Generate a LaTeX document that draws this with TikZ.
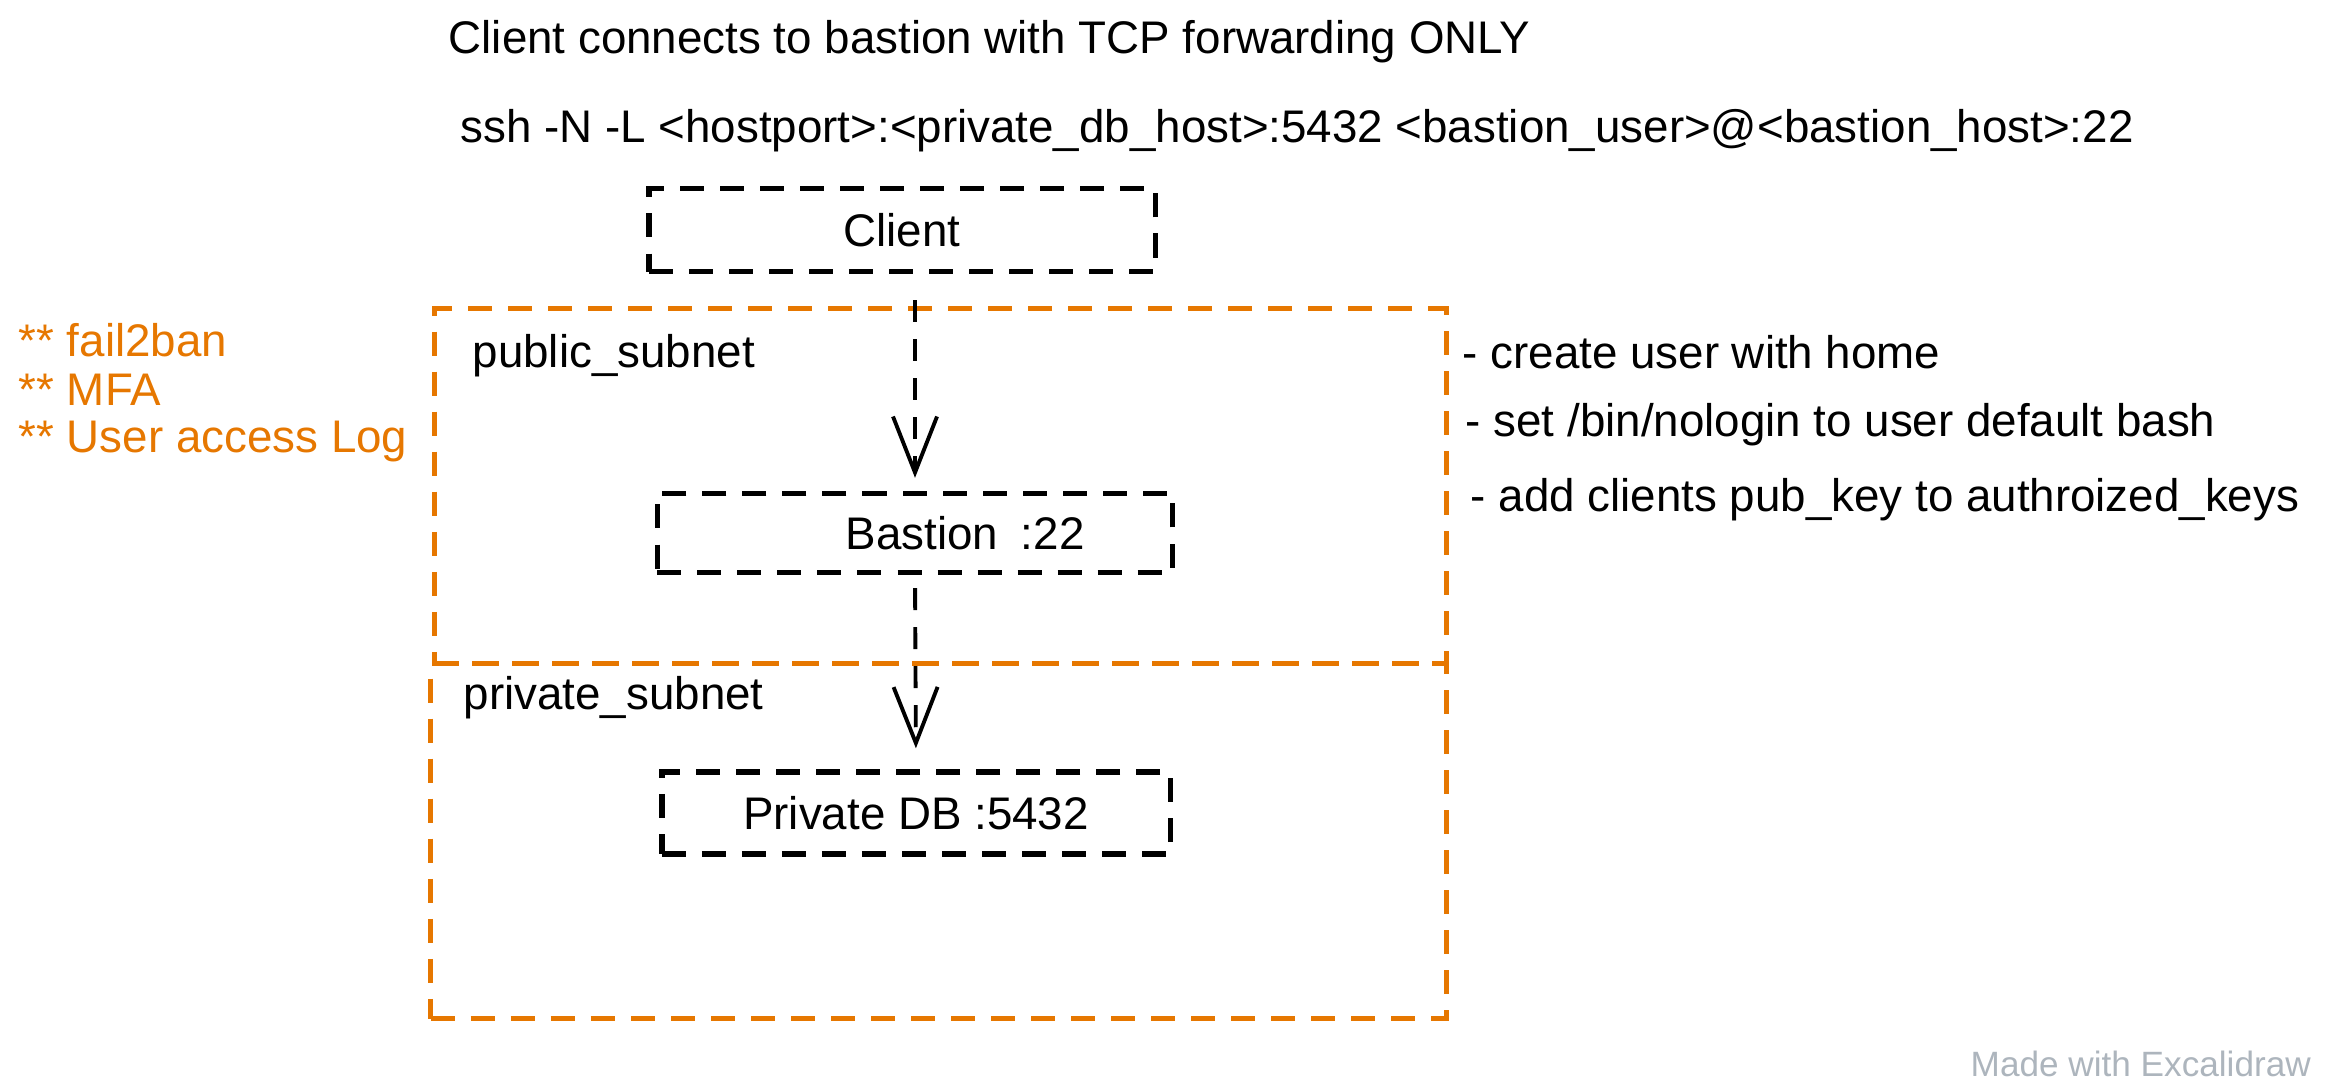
\documentclass[tikz,border=0pt]{standalone}
\usepackage{fontspec}
\setmainfont{Liberation Sans}
\usepackage{xcolor}
\usetikzlibrary{positioning,arrows.meta,calc}
\definecolor{netorange}{RGB}{230,119,0}
\definecolor{wmgray}{RGB}{173,181,189}

\begin{document}
\begin{tikzpicture}[x=0.01cm, y=-0.01cm,
  txt/.style={inner sep=0pt, anchor=west, font=\fontsize{13}{15}\selectfont},
  note/.style={txt, text=netorange},
  hostbox/.style={draw, line width=1.5pt, dash pattern=on 2.4mm off 1.6mm, inner sep=0pt, font=\fontsize{13}{15}\selectfont},
  subnet/.style={draw=netorange, line width=1.5pt, dash pattern=on 2.4mm off 1.6mm, inner sep=0pt, anchor=north west},
  flow/.style={line width=1.1pt, dash pattern=on 2.2mm off 1.7mm, -{Straight Barb[length=5.6mm, width=4.4mm]}},
  >={Stealth[length=2mm]}]
\useasboundingbox (0,0) rectangle (2328,1089);
\node[subnet, minimum width=10.11cm, minimum height=3.55cm] (pub) at (432,306) {};
\node[subnet, minimum width=10.15cm, minimum height=3.55cm] (priv) at (428,661) {};
\node[txt] (publbl) at (472,356) {public\_subnet};
\node[txt] (privlbl) at (463,698) {private\_subnet};
\node[txt] (title) at (448,42) {Client connects to bastion with TCP forwarding ONLY};
\node[txt] (cmd) at (460,131) {ssh -N -L <hostport>:<private\_db\_host>:5432 <bastion\_user>@<bastion\_host>:22};
\node[hostbox, minimum width=5.06cm, minimum height=0.83cm] (client) at (902,230) {Client};
\node[hostbox, minimum width=5.15cm, minimum height=0.79cm] (bastion) at (915,533) {\hspace*{1cm}Bastion\enspace:22};
\node[hostbox, minimum width=5.08cm, minimum height=0.82cm] (db) at (916,813) {Private DB :5432};
\node[txt] (step1) at (1462,352) {- create user with home};
\node[txt] (step2) at (1465,425) {- set /bin/nologin to user default bash};
\node[txt] (step3) at (1470,500) {- add clients pub\_key to authroized\_keys};
\node[note] (f2b) at (18,340) {** fail2ban};
\node[note] (mfa) at (18,390) {** MFA};
\node[note] (log) at (18,442) {** User access Log};
\node[txt, text=wmgray, font=\fontsize{10}{12}\selectfont] (wm) at (1970,1064) {Made with Excalidraw};
\draw[flow, shorten <=0.26cm, shorten >=0.13cm] (client.south -| bastion.north) -- (bastion.north);
\draw[flow, shorten <=0.13cm, shorten >=0.21cm] (bastion.south) -- (db.north);
\end{tikzpicture}
\end{document}
